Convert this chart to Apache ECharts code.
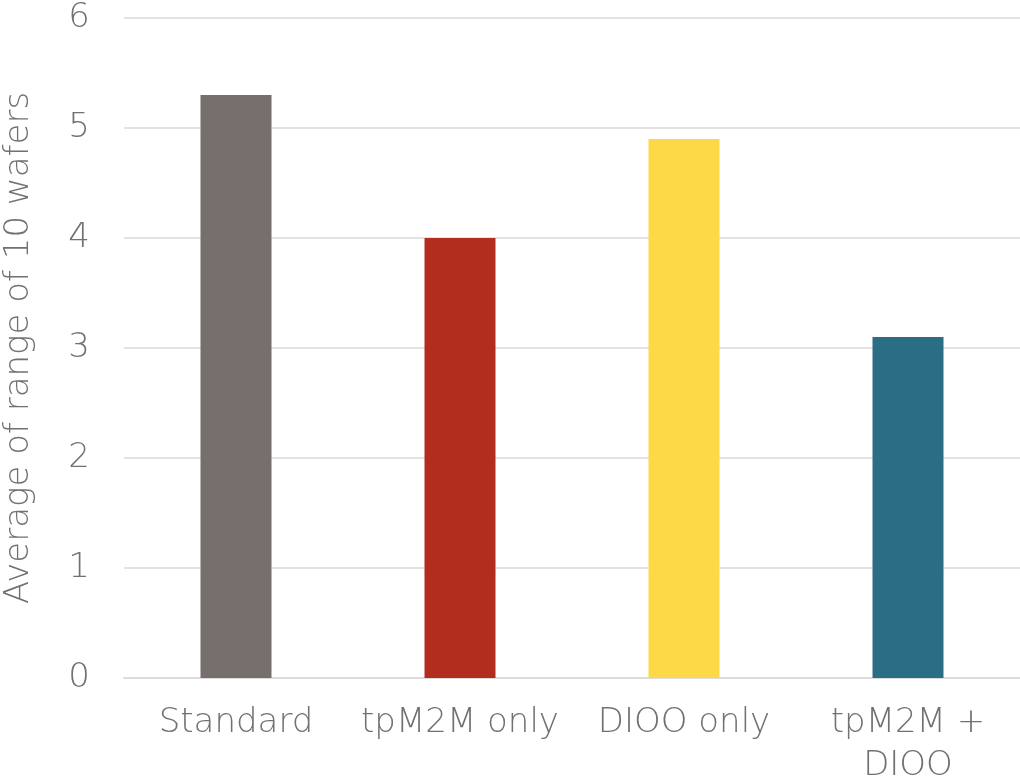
<!DOCTYPE html>
<html><head><meta charset="utf-8">
<script src="https://cdn.jsdelivr.net/npm/echarts@6/dist/echarts.min.js"></script>
<style>html,body{margin:0;padding:0;background:#fff}#c{width:1020px;height:784px}</style>
</head><body><div id="c"></div>
<script>
const categories = ["Standard", "tpM2M only", "DIOO only", "tpM2M +\nDIOO"];
const values = [5.3, 4.0, 4.9, 3.1];
const barColors = ["#776f6b", "#b32d1f", "#fdd947", "#2a6d84"];
const yAxisName = "Average of range of 10 wafers";

const textColor = "#757070";
const font = "'DejaVu Sans', sans-serif";
const chart = echarts.init(document.getElementById('c'));
chart.setOption({
  animation: false,
  grid: {left: 124, right: 0, top: 18, bottom: 106, containLabel: false, outerBoundsMode: 'none'},
  xAxis: {
    type: 'category', data: categories,
    axisLine: {lineStyle: {color: '#dddddd', width: 2}},
    axisTick: {show: false},
    axisLabel: {color: textColor, fontSize: 34, fontFamily: font, fontWeight: 300, margin: 24, lineHeight: 43, interval: 0}
  },
  yAxis: {
    type: 'value', min: 0, max: 6, interval: 1,
    name: yAxisName, nameLocation: 'middle', nameGap: 88, nameRotate: 90,
    nameTextStyle: {color: textColor, fontSize: 34, fontFamily: font, fontWeight: 300},
    axisLine: {show: false}, axisTick: {show: false},
    axisLabel: {color: textColor, fontSize: 34, fontFamily: font, fontWeight: 300, margin: 34},
    splitLine: {lineStyle: {color: '#e3e3e3', width: 2}}
  },
  series: [{
    type: 'bar', barWidth: 71,
    data: values.map((v, i) => ({value: v, itemStyle: {color: barColors[i]}}))
  }]
});
</script></body></html>
